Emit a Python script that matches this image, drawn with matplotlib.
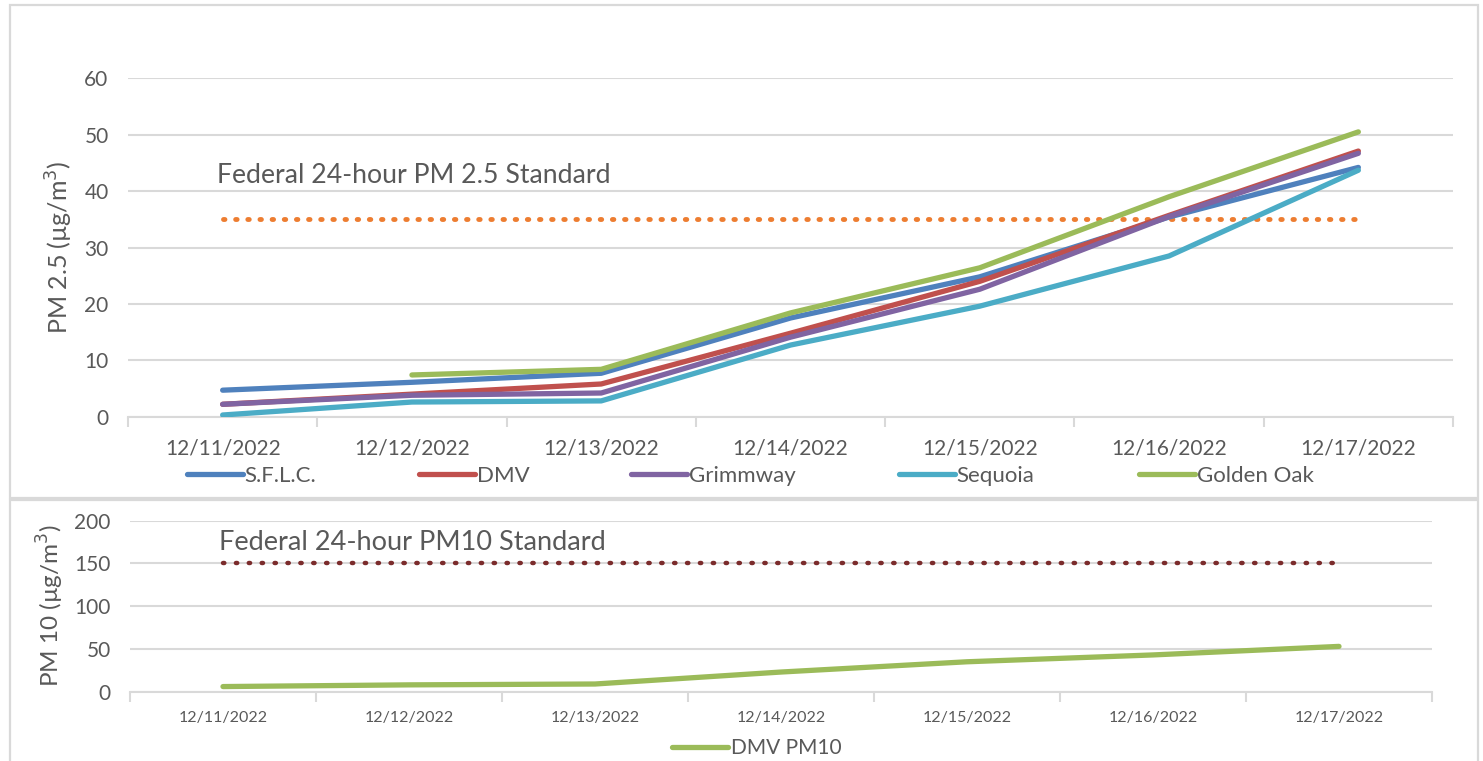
import matplotlib
matplotlib.use("Agg")
import matplotlib.pyplot as plt
from matplotlib.patches import Rectangle
from matplotlib.ticker import FixedLocator, NullFormatter
import numpy as np

# ---------------- data ----------------
dates = ["12/11/2022", "12/12/2022", "12/13/2022", "12/14/2022",
         "12/15/2022", "12/16/2022", "12/17/2022"]
sflc = [4.7, 6.1, 7.7, 17.5, 24.8, 35.4, 44.2]
dmv = [2.2, 4.0, 5.8, 14.8, 24.0, 35.7, 47.1]
grimmway = [2.2, 3.8, 4.2, 14.1, 22.6, 35.5, 46.7]
sequoia = [0.3, 2.6, 2.8, 12.7, 19.6, 28.5, 43.7]
golden_oak = [np.nan, 7.4, 8.4, 18.4, 26.4, 39.0, 50.5]
pm25_standard = 35
dmv_pm10 = [6, 8, 9, 23, 35, 43, 53]
pm10_standard = 150

series_names = ["S.F.L.C.", "DMV", "Grimmway", "Sequoia", "Golden Oak"]
series_vals = [sflc, dmv, grimmway, sequoia, golden_oak]
series_colors = ["#4F81BD", "#C0504D", "#8064A2", "#4BACC6", "#9BBB59"]

W, H = 1483, 761
plt.rcParams['font.family'] = ['Lato', 'DejaVu Sans']
TXT = "#595959"
GRID = "#D9D9D9"

fig = plt.figure(figsize=(W / 100, H / 100), dpi=100)


def px_axes(x0, x1, ytop, ybot):
    return fig.add_axes([x0 / W, 1 - ybot / H, (x1 - x0) / W, (ybot - ytop) / H])


# frames
fig.patches.append(Rectangle((10 / W, 1 - 498 / H), (1478 - 10) / W, (498 - 5) / H,
                             transform=fig.transFigure, fill=False, edgecolor=GRID, lw=1.6))
fig.patches.append(Rectangle((10 / W, -0.01), (1478 - 10) / W, (0.01 + 1 - 500 / H),
                             transform=fig.transFigure, fill=False, edgecolor=GRID, lw=1.6))

x = np.arange(len(dates))


def style_axes(ax, n, tick_fs, ytick_fs, pad):
    ax.set_xlim(-0.5, n - 0.5)
    for s in ["top", "right", "left"]:
        ax.spines[s].set_visible(False)
    ax.spines["bottom"].set_color(GRID)
    ax.spines["bottom"].set_linewidth(1.5)
    ax.grid(axis="y", color=GRID, lw=1.5)
    ax.set_axisbelow(True)
    ax.set_xticks(x)
    ax.set_xticklabels(dates, fontsize=tick_fs, color=TXT)
    ax.xaxis.set_minor_locator(FixedLocator(np.arange(-0.5, n, 1.0)))
    ax.xaxis.set_minor_formatter(NullFormatter())
    ax.tick_params(axis="x", which="major", length=0, pad=pad)
    ax.tick_params(axis="x", which="minor", length=7, color=GRID, width=1.5)
    ax.tick_params(axis="y", length=0, labelsize=ytick_fs, labelcolor=TXT, pad=14)


# ---------------- top chart ----------------
ax1 = px_axes(128, 1453, 78.3, 416.7)
style_axes(ax1, len(dates), 15, 15, 15.5)
ax1.set_ylim(0, 60)
ax1.set_yticks(np.arange(0, 61, 10))
ax1.plot([x[0], x[-1]], [pm25_standard, pm25_standard], color="#ED7D31", lw=3.5,
         linestyle=(0, (0.3, 2.2)), dash_capstyle="round", zorder=2)
handles = []
for name, vals, c in zip(series_names, series_vals, series_colors):
    h, = ax1.plot(x, vals, color=c, lw=3.8, solid_capstyle="round", label=name, zorder=3)
    handles.append(h)
ax1.text(-0.03, 42.7, "Federal 24-hour PM 2.5 Standard", fontsize=19.2, color=TXT,
         ha="left", va="center")
ax1.set_ylabel("PM 2.5 (µg/m$^3$)", fontsize=18, color=TXT, labelpad=7)

legend_x = [187, 419, 631, 899, 1139]
for h, name, lx in zip(handles, series_names, legend_x):
    fig.legend([h], [name], loc="center left",
               bbox_to_anchor=(lx / W, 1 - 476 / H),
               frameon=False, fontsize=16, labelcolor=TXT,
               handlelength=2.5, handletextpad=0.1, borderaxespad=0, borderpad=0)

# ---------------- bottom chart ----------------
ax2 = px_axes(130, 1432, 520.7, 691.7)
style_axes(ax2, len(dates), 11.5, 15, 14)
ax2.set_ylim(0, 200)
ax2.set_yticks(np.arange(0, 201, 50))
ax2.plot([x[0], x[-1]], [pm10_standard, pm10_standard], color="#7B2C2C", lw=3.2,
         linestyle=(0, (0.3, 2.6)), dash_capstyle="round", zorder=2)
h2, = ax2.plot(x, dmv_pm10, color="#9BBB59", lw=3.8, solid_capstyle="round",
               label="DMV PM10", zorder=3)
ax2.text(-0.02, 175, "Federal 24-hour PM10 Standard", fontsize=19.5, color=TXT,
         ha="left", va="center")
ax2.set_ylabel("PM 10 (µg/m$^3$)", fontsize=17.5, color=TXT, labelpad=6)

fig.legend([h2], ["DMV PM10"], loc="center left", bbox_to_anchor=(672 / W, 1 - 748 / H),
           frameon=False, fontsize=15, labelcolor=TXT, handlelength=2.7,
           handletextpad=0.12, borderaxespad=0, borderpad=0)

fig.savefig("out.png", dpi=100)
